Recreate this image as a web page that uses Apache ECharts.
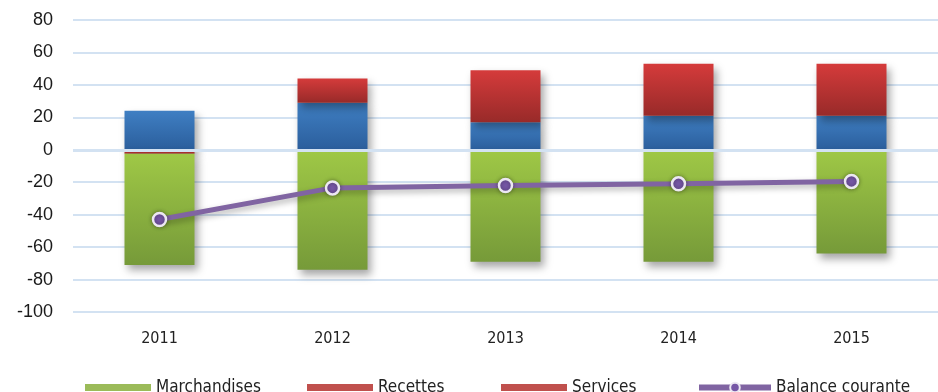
<!DOCTYPE html>
<html>
<head>
<meta charset="utf-8">
<script src="https://cdn.jsdelivr.net/npm/echarts@6/dist/echarts.min.js"></script>
<style>
  html, body { margin: 0; padding: 0; background: #ffffff; }
  #chart { width: 938px; height: 392px; }
</style>
</head>
<body>
<div id="chart"></div>
<script>
// Years on the category axis
const years = ['2011', '2012', '2013', '2014', '2015'];

// Component values (bars are stacked; negatives stack below zero)
const services     = [24, 29, 17, 21, 21];
const recettes     = [-2.5, 15, 32, 32, 32];
const marchandises = [-68.5, -74, -69, -69, -64];

// Current account balance (line)
const balanceCourante = [-43, -23.5, -22, -21, -19.5];

// Value axis range
const yMin = -100, yMax = 80, yStep = 20;

const narrowFont = '"Liberation Sans Narrow", "DejaVu Sans Condensed", "Roboto Condensed", "Liberation Sans", sans-serif';

function vGrad(top, bottom) {
  return new echarts.graphic.LinearGradient(0, 0, 0, 1, [
    { offset: 0, color: top },
    { offset: 1, color: bottom }
  ]);
}

const barShadow = {
  shadowBlur: 8,
  shadowOffsetX: 3,
  shadowOffsetY: 5,
  shadowColor: 'rgba(0,0,0,0.35)'
};

const chart = echarts.init(document.getElementById('chart'), null, { renderer: 'canvas' });

const legendText = {
  fontFamily: narrowFont,
  fontSize: 17,
  color: '#222'
};

function barLegend(name, left, color) {
  return {
    left: left, top: 374,
    itemWidth: 66, itemHeight: 7, itemGap: 0,
    icon: 'rect',
    textStyle: legendText,
    selectedMode: false,
    data: [{ name: name, itemStyle: { color: color, shadowBlur: 0, shadowOffsetX: 0, shadowOffsetY: 0 } }]
  };
}

chart.setOption({
  animation: false,
  backgroundColor: '#ffffff',
  grid: { left: 73, top: 20, width: 876, height: 292, containLabel: false },
  legend: [
    barLegend('Marchandises', 80, '#9bbb59'),
    barLegend('Recettes', 302, '#c0504d'),
    barLegend('Services', 496, '#c0504d'),
    {
      left: 691, top: 374,
      itemWidth: 72, itemHeight: 12,
      textStyle: legendText,
      selectedMode: false,
      data: [{
        name: 'Balance courante',
        lineStyle: { color: '#8064a2', width: 6, shadowBlur: 0, shadowOffsetX: 0, shadowOffsetY: 0 },
        itemStyle: { color: '#7657a6', borderColor: '#ece8f2', borderWidth: 2, shadowBlur: 0 }
      }]
    }
  ],
  xAxis: {
    type: 'category',
    data: years,
    boundaryGap: true,
    axisLine: { show: false, onZero: false },
    axisTick: { show: false },
    axisLabel: {
      margin: 19,
      fontFamily: narrowFont,
      fontSize: 16,
      color: '#222'
    },
    splitLine: { show: false }
  },
  yAxis: {
    type: 'value',
    min: yMin, max: yMax, interval: yStep,
    axisLine: { show: false },
    axisTick: { show: false },
    axisLabel: {
      margin: 20,
      fontFamily: '"Liberation Sans", Arial, sans-serif',
      fontSize: 18,
      color: '#1a1a1a'
    },
    splitLine: { show: true, lineStyle: { color: '#d3e2f2', width: 2 } }
  },
  series: [
    {
      name: 'Services',
      type: 'bar',
      stack: 'total',
      barWidth: 70,
      data: services,
      itemStyle: Object.assign({ color: vGrad('#3f7fc3', '#2b5e9c') }, barShadow)
    },
    {
      name: 'Recettes',
      type: 'bar',
      stack: 'total',
      barWidth: 70,
      data: recettes,
      itemStyle: Object.assign({ color: vGrad('#d53b3b', '#982a29') }, barShadow)
    },
    {
      name: 'Marchandises',
      type: 'bar',
      stack: 'total',
      barWidth: 70,
      data: marchandises,
      itemStyle: Object.assign({ color: vGrad('#9fc846', '#769a39') }, barShadow),
      markLine: {
        silent: true,
        symbol: 'none',
        label: { show: false },
        lineStyle: { color: '#d3e2f2', width: 3, type: 'solid' },
        data: [{ yAxis: 0 }]
      }
    },
    {
      name: 'Balance courante',
      type: 'line',
      data: balanceCourante,
      z: 5,
      symbol: 'circle',
      symbolSize: 13,
      lineStyle: {
        color: '#8064a2', width: 5,
        shadowBlur: 6, shadowOffsetX: 2, shadowOffsetY: 3, shadowColor: 'rgba(0,0,0,0.3)'
      },
      itemStyle: {
        color: '#7657a6', borderColor: '#ece8f2', borderWidth: 2.5,
        shadowBlur: 4, shadowColor: 'rgba(0,0,0,0.35)'
      }
    }
  ]
});
</script>
</body>
</html>
